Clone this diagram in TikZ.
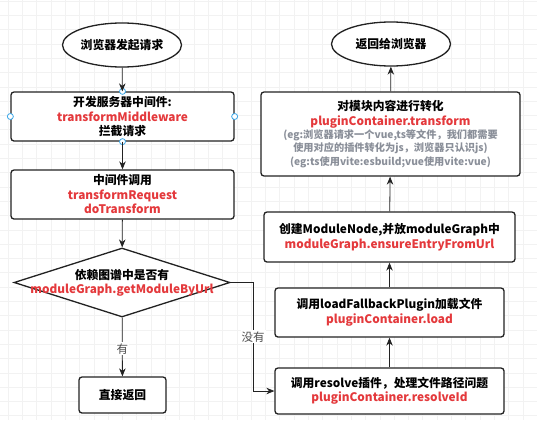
\documentclass[tikz,border=0pt]{standalone}
\usepackage{fontspec}
\setmainfont{Noto Sans CJK SC}
\usepackage{tikz}
\usetikzlibrary{positioning,shapes.geometric,arrows.meta}
\definecolor{codered}{HTML}{E4393C}
\definecolor{notegrey}{HTML}{8A8F99}
\definecolor{edgegrey}{HTML}{222222}
\definecolor{handleblue}{HTML}{3DA8E8}
\newcommand{\code}[1]{\textcolor{codered}{#1}}

\begin{document}
\begin{tikzpicture}[x=1pt, y=-1pt, thick, >={Stealth[length=8pt,width=6.5pt]},
  font=\fontsize{11.8}{14.5}\selectfont\bfseries,
  terminal/.style = {draw=edgegrey, line width=1.3pt, ellipse, inner sep=0pt, minimum width=119pt, minimum height=44pt, fill=white},
  process/.style = {draw=edgegrey, line width=1.3pt, rounded corners=3pt, inner sep=0pt, align=center, fill=white},
  decision/.style = {draw=edgegrey, line width=1.3pt, diamond, inner sep=0pt, minimum width=216pt, minimum height=69pt, fill=white},
  handle/.style = {draw=handleblue, circle, fill=white, line width=0.8pt, inner sep=0pt, minimum size=6pt},
  branch/.style = {fill=white, font=\fontsize{11.5}{14}\selectfont, text=black!70, inner sep=1pt},
  gridline/.style = {draw=black!5, line width=0.6pt}]

\useasboundingbox (0,0) rectangle (537,434);
\fill[white] (0,0) rectangle (537,434);
\foreach \gx in {8,22.3,...,537} \draw[gridline] (\gx,0) -- (\gx,420);
\foreach \gy in {1,15.3,...,420} \draw[gridline] (0,\gy) -- (537,\gy);

% left column
\node[terminal] (start) at (122,45) {浏览器发起请求};
\node[process, minimum width=223pt, minimum height=49pt] (mw) at (122.5,116.5) {开发服务器中间件:\\\code{transformMiddleware}\\拦截请求};
\node[process, minimum width=223pt, minimum height=49pt] (req) at (122.5,194.5) {中间件调用\\\code{transformRequest}\\\code{doTransform}};
\node[decision] (dia) at (122,282.5) {};
\node[align=center] (diatext) at (122,283) {依赖图谱中是否有\\\code{moduleGraph.getModuleByUrl}};
\node[process, minimum width=87pt, minimum height=36pt] (ret) at (122.5,395) {直接返回};

% selection handles on the middleware box
\node[handle] (h1) at (mw.north) {};
\node[handle] (h2) at (mw.south) {};
\node[handle] (h3) at (mw.west) {};
\node[handle] (h4) at (mw.east) {};

% right column
\node[terminal] (back) at (391,44) {返回给浏览器};
\node[process, minimum width=259pt, minimum height=84pt] (tr) at (390.5,134) {对模块内容进行转化\\\code{pluginContainer.transform}\\[-1.5pt]
  {\color{notegrey}\fontsize{10.2}{13.5}\selectfont (eg:浏览器请求一个vue,ts等文件，我们都需要}\\[-1pt]
  {\color{notegrey}\fontsize{10.2}{13.5}\selectfont 使用对应的插件转化为js，浏览器只认识js)}\\[-1pt]
  {\color{notegrey}\fontsize{10.2}{13.5}\selectfont (eg:ts使用vite:esbuild;vue使用vite:vue)}};
\node[process, minimum width=251pt, minimum height=50pt] (mod) at (389.5,237) {创建ModuleNode,并放moduleGraph中\\\code{moduleGraph.ensureEntryFromUrl}};
\node[process, minimum width=229pt, minimum height=49pt] (load) at (389.5,312.5) {调用loadFallbackPlugin加载文件\\\code{pluginContainer.load}};
\node[process, minimum width=229pt, minimum height=46pt] (res) at (389.5,391) {调用resolve插件，处理文件路径问题\\\code{pluginContainer.resolveId}};

\coordinate (turn) at (253,282.5);

\draw[->, draw=edgegrey] (start) -- (mw);
\draw[->, draw=edgegrey] (mw) -- (req);
\draw[->, draw=edgegrey] (req) -- (dia);
\draw[->, draw=edgegrey] (dia) -- node[branch, pos=0.53] {有} (ret);
\draw[->, draw=edgegrey] (dia.east) -- (turn) -- node[branch] {没有} (turn |- res.west) -- (res.west);
\draw[->, draw=edgegrey] (res) -- (load);
\draw[->, draw=edgegrey] (load) -- (mod);
\draw[->, draw=edgegrey] (mod) -- (tr);
\draw[->, draw=edgegrey] (tr) -- (back);

\end{tikzpicture}
\end{document}
